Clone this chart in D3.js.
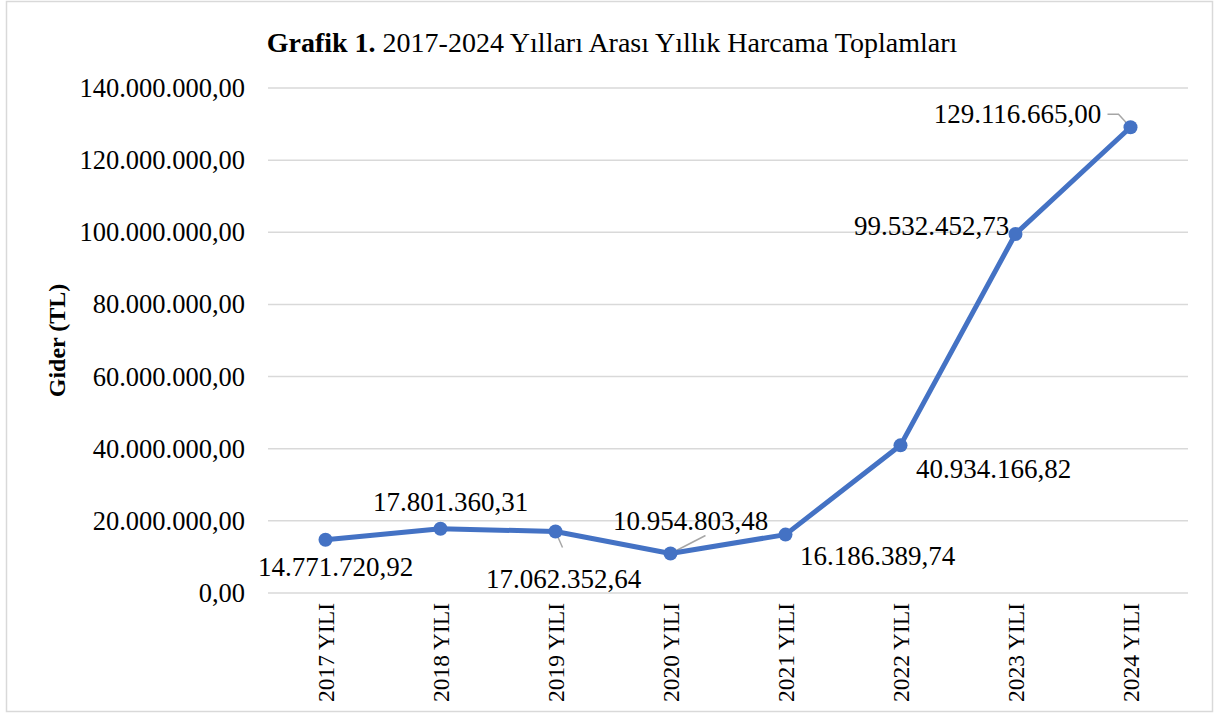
<!DOCTYPE html>
<html>
<head>
<meta charset="utf-8">
<script src="https://cdn.jsdelivr.net/npm/d3@7"></script>
<style>
  body { margin: 0; background: #fff; }
  text { font-family: "Liberation Serif", "Times New Roman", serif; fill: #000; }
</style>
</head>
<body>
<div id="chart"></div>
<script>
// data
let years = ["2017 YILI", "2018 YILI", "2019 YILI", "2020 YILI", "2021 YILI", "2022 YILI", "2023 YILI", "2024 YILI"];
let spending = [14771720.92, 17801360.31, 17062352.64, 10954803.48, 16186389.74, 40934166.82, 99532452.73, 129116665.00];
let yTicks = [0, 20000000, 40000000, 60000000, 80000000, 100000000, 120000000, 140000000];

// label placement relative to the point (Excel moved some of them by hand)
let labelShift = [[10, 27], [10, -27], [8, 47], [20, -33], [92, 21], [93, 23], [-84, -8], [-113, -14]];

let W = 1219, H = 715;
let margin = { top: 88, right: 31, bottom: 122, left: 268 };
let width = W - margin.left - margin.right;
let height = H - margin.top - margin.bottom;

// tr-TR style number: 14.771.720,92
function trFormat(v) {
    let parts = v.toFixed(2).split(".");
    let intPart = parts[0].replace(/\B(?=(\d{3})+(?!\d))/g, ".");
    return intPart + "," + parts[1];
}

let svg = d3.select("#chart").append("svg")
    .attr("width", W)
    .attr("height", H);

// outer frame
svg.append("rect")
    .attr("x", 6.5).attr("y", 1.5)
    .attr("width", 1206).attr("height", 710)
    .attr("fill", "#fff")
    .attr("stroke", "#d9d9d9")
    .attr("stroke-width", 1.5);

let title = svg.append("text")
    .attr("x", 612)
    .attr("y", 52)
    .attr("text-anchor", "middle")
    .style("font-size", "28px");
title.append("tspan").style("font-weight", "bold").text("Grafik 1.");
title.append("tspan").text(" 2017-2024 Yılları Arası Yıllık Harcama Toplamları");

let g = svg.append("g").attr("transform", "translate(" + margin.left + "," + margin.top + ")");

let xScale = d3.scaleBand().domain(years).range([0, width]);
let yScale = d3.scaleLinear().domain([0, 140000000]).range([height, 0]);

// grid
g.append("g").selectAll("line")
    .data(yTicks)
    .enter().append("line")
    .attr("x1", 0).attr("x2", width)
    .attr("y1", d => yScale(d)).attr("y2", d => yScale(d))
    .attr("stroke", "#d9d9d9")
    .attr("stroke-width", 1.5);

// y axis labels
let yAxis = g.append("g")
    .call(d3.axisLeft(yScale).tickValues(yTicks).tickFormat(trFormat).tickSize(0).tickPadding(23));
yAxis.select(".domain").remove();
yAxis.selectAll("text")
    .style("font-size", "26.5px")
    .style("font-family", "Liberation Serif, Times New Roman, serif");

// x axis labels
let xAxis = g.append("g")
    .attr("transform", "translate(0," + height + ")")
    .call(d3.axisBottom(xScale).tickSize(0));
xAxis.select(".domain").remove();
xAxis.selectAll("text")
    .style("font-size", "23.5px")
    .style("font-family", "Liberation Serif, Times New Roman, serif")
    .attr("text-anchor", "end")
    .attr("transform", "rotate(-90)")
    .attr("x", -10)
    .attr("y", 0)
    .attr("dy", "0.35em");

// y axis title
svg.append("text")
    .attr("transform", "translate(" + 57 + "," + (margin.top + height / 2) + ")rotate(-90)")
    .attr("text-anchor", "middle")
    .attr("dy", "0.35em")
    .style("font-size", "24px")
    .style("font-weight", "bold")
    .text("Gider (TL)");

let cx = d => xScale(d) + xScale.bandwidth() / 2;

// leader lines for moved labels
let leaders = [
    { i: 2, pts: [[0, 0], [7, 16]] },
    { i: 3, pts: [[2, -1], [35, -18]] },
    { i: 7, pts: [[0, 0], [-12, -13], [-23, -13]] }
];
leaders.forEach(function (l) {
    let px = cx(years[l.i]), py = yScale(spending[l.i]);
    g.append("path")
        .attr("d", d3.line()(l.pts.map(p => [px + p[0], py + p[1]])))
        .attr("fill", "none")
        .attr("stroke", "#a6a6a6")
        .attr("stroke-width", 1.5);
});

// line
let line = d3.line()
    .x((d, i) => cx(years[i]))
    .y(d => yScale(d));

g.append("path")
    .datum(spending)
    .attr("d", line)
    .attr("fill", "none")
    .attr("stroke", "#4472c4")
    .attr("stroke-width", 5)
    .attr("stroke-linejoin", "round");

g.selectAll("circle")
    .data(spending)
    .enter().append("circle")
    .attr("cx", (d, i) => cx(years[i]))
    .attr("cy", d => yScale(d))
    .attr("r", 7)
    .attr("fill", "#4472c4");

// data labels
g.selectAll(".dlabel")
    .data(spending)
    .enter().append("text")
    .attr("class", "dlabel")
    .attr("x", (d, i) => cx(years[i]) + labelShift[i][0])
    .attr("y", (d, i) => yScale(d) + labelShift[i][1])
    .attr("text-anchor", "middle")
    .attr("dy", "0.35em")
    .style("font-size", "27px")
    .text(d => trFormat(d));
</script>
</body>
</html>
